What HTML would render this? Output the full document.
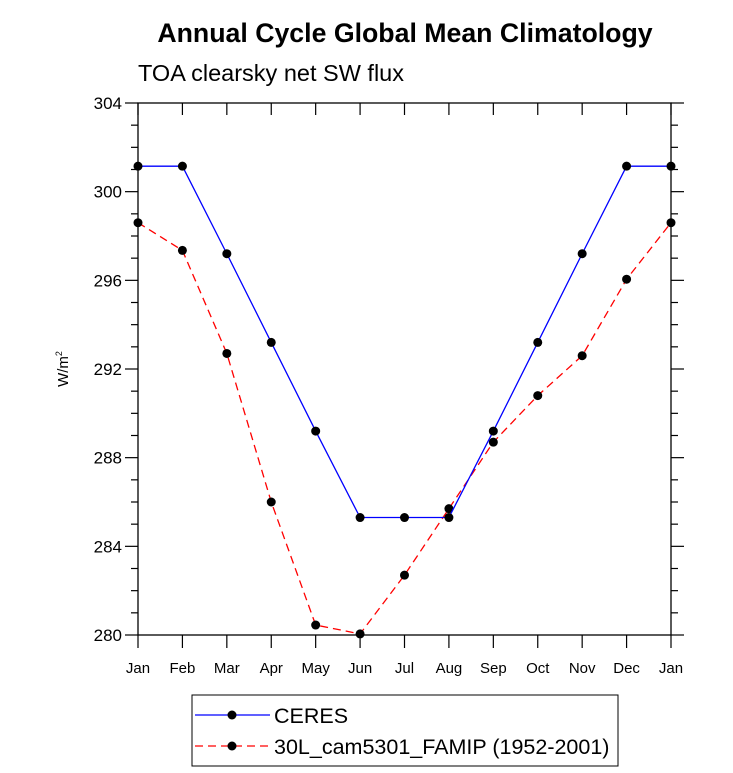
<!DOCTYPE html>
<html><head><meta charset="utf-8"><style>body{margin:0;background:#fff}svg{display:block;font-family:"Liberation Sans",sans-serif}</style></head>
<body>
<svg id="c" width="733" height="773" viewBox="0 0 733 773">
<text x="405" y="42" text-anchor="middle" font-size="26.7" font-weight="bold">Annual Cycle Global Mean Climatology</text>
<text x="138" y="81" font-size="23.5">TOA clearsky net SW flux</text>
<text transform="translate(68,369) rotate(-90)" text-anchor="middle" font-size="15">W/m<tspan font-size="9" dy="-6">2</tspan></text>
<g id="axes"></g>
<g id="series"></g>
<g>
<rect x="192" y="695" width="426" height="71" fill="none" stroke="#000" stroke-width="1"/>
<g>
<line x1="195" y1="715" x2="270" y2="715" stroke="#0000ff" stroke-width="1.3"/>
<circle cx="232" cy="715" r="4.5"/>
<text x="274" y="723" font-size="21.5">CERES</text></g>
<g>
<line x1="195" y1="746" x2="270" y2="746" stroke="#ff0000" stroke-width="1.3" stroke-dasharray="8,5"/>
<circle cx="232" cy="746" r="4.5"/>
<text x="274" y="754" font-size="21.5">30L_cam5301_FAMIP (1952-2001)</text></g>
</g>
</svg>
<script>
const months=["Jan","Feb","Mar","Apr","May","Jun","Jul","Aug","Sep","Oct","Nov","Dec","Jan"];
const ceres=[301.15,301.15,297.2,293.2,289.2,285.3,285.3,285.3,289.2,293.2,297.2,301.15,301.15];
const model=[298.6,297.35,292.7,286.0,280.45,280.05,282.7,285.7,288.7,290.8,292.6,296.05,298.6];
const yTicks=[280,284,288,292,296,300,304];
const NS="http://www.w3.org/2000/svg";
const L=138,R=671,T=103,B=635,yMin=280,yMax=304;
const xs=i=>L+(R-L)*i/(months.length-1);
const ys=v=>B-(v-yMin)/(yMax-yMin)*(B-T);
function mk(tag,at,parent){const e=document.createElementNS(NS,tag);for(const k in at)e.setAttribute(k,at[k]);parent.appendChild(e);return e;}
const ax=document.getElementById('axes');
const frame=mk('rect',{x:L,y:T,width:R-L,height:B-T,fill:'none',stroke:'#000','stroke-width':1.3},ax);


for(let v=yMin;v<=yMax;v++){
  const major=yTicks.includes(v),len=major?13:7,y=ys(v);
  mk('line',{x1:L-len,y1:y,x2:L,y2:y,stroke:'#000','stroke-width':1.2},ax);
  mk('line',{x1:R,y1:y,x2:R+len,y2:y,stroke:'#000','stroke-width':1.2},ax);
}
yTicks.forEach(v=>{
  const t=mk('text',{x:L-16,y:ys(v)+6,'text-anchor':'end','font-size':17},ax);
  t.textContent=v;
  
  
});
months.forEach((m,i)=>{
  const x=xs(i);
  mk('line',{x1:x,y1:B,x2:x,y2:B+13,stroke:'#000','stroke-width':1.2},ax);
  mk('line',{x1:x,y1:T,x2:x,y2:T+12,stroke:'#000','stroke-width':1.2},ax);
  const t=mk('text',{x:x,y:B+38,'text-anchor':'middle','font-size':15},ax);
  t.textContent=m;
  
  
});
const sg=document.getElementById('series');
function draw(vals,color,dash,name){
  const g=mk('g',{},sg);
  
  
  const pts=vals.map((v,i)=>xs(i)+','+ys(v)).join(' ');
  const pl=mk('polyline',{points:pts,fill:'none',stroke:color,'stroke-width':1.3},g);
  if(dash)pl.setAttribute('stroke-dasharray',dash);
  vals.forEach((v,i)=>{
    const c=mk('circle',{cx:xs(i),cy:ys(v),r:4.5,fill:'#000'},g);
    
    
  });
}
draw(model,'#ff0000','8,5','model-series');
draw(ceres,'#0000ff',null,'ceres-series');
</script>
</body></html>
